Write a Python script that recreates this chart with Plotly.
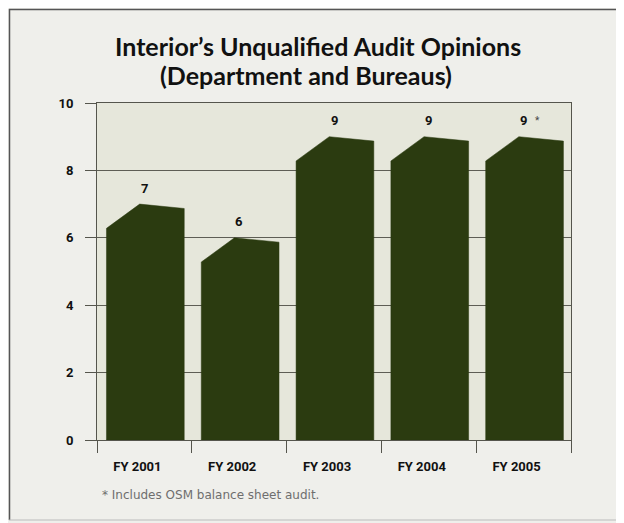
import plotly.graph_objects as go

# ---- data ----
categories = ["FY 2001", "FY 2002", "FY 2003", "FY 2004", "FY 2005"]
values = [7, 6, 9, 9, 9]
value_labels = ["7", "6", "9", "9", "9"]
starred = [False, False, False, False, True]
y_ticks = [0, 2, 4, 6, 8, 10]
title_line1 = "Interior\u2019s Unqualified Audit Opinions"
title_line2 = "(Department and Bureaus)"
footnote = "* Includes OSM balance sheet audit."

# ---- geometry (window pixels) ----
W, H = 624, 523
OFF = 8  # page body margin
ML, MR, MT, MB = 97, 53, 103, 83
BAR = "#2b3b10"
AXIS = "#55554d"
COND = "Liberation Sans Narrow, Roboto, sans-serif"

pw, ph = W - ML - MR, H - MT - MB
def px(x):
    return (x - ML) / pw
def py(y):
    return (H - MB - y) / ph

fig = go.Figure()

# 3-D looking bars: silhouette built from value and category index
left_off, peak_off, right_off = 0.10, 0.45, 0.92
drop_left, drop_right = 0.72, 0.13
for i, v in enumerate(values):
    xs = [i + left_off, i + left_off, i + peak_off, i + right_off, i + right_off, i + left_off]
    ys = [0, v - drop_left, v, v - drop_right, 0, 0]
    fig.add_trace(go.Scatter(x=xs, y=ys, mode="lines", fill="toself",
                             fillcolor=BAR, line=dict(color=BAR, width=0.5),
                             hoverinfo="skip", showlegend=False))

# value labels
for i, (v, lab, st) in enumerate(zip(values, value_labels, starred)):
    fig.add_annotation(x=i + 0.5, y=v, yshift=16, text=lab, showarrow=False,
                       font=dict(family=COND, size=13, color="#111", weight="bold"),
                       xanchor="center", yanchor="middle")
    if st:
        fig.add_annotation(x=i + 0.5, y=v, yshift=16, xshift=14, text="*", showarrow=False,
                           font=dict(family=COND, size=10, color="#444"),
                           xanchor="center", yanchor="middle")

# title lines
tfont = dict(family="Lato", size=25, color="#111", weight="bold")
fig.add_annotation(xref="paper", yref="paper", x=px(318), y=py(46), text=title_line1,
                   showarrow=False, font=tfont, xanchor="center", yanchor="middle")
fig.add_annotation(xref="paper", yref="paper", x=px(306), y=py(75), text=title_line2,
                   showarrow=False, font=tfont, xanchor="center", yanchor="middle")

# footnote
fig.add_annotation(xref="paper", yref="paper", x=px(100), y=py(495), text=footnote,
                   showarrow=False, font=dict(family="DejaVu Sans", size=12, color="#6e6e6e"),
                   xanchor="left", yanchor="middle")

# outer frame (top, left, bottom)
fig.add_shape(type="line", xref="paper", yref="paper", x0=px(9), x1=px(624), y0=py(9.5), y1=py(9.5),
              line=dict(color="#555", width=1.5))
fig.add_shape(type="line", xref="paper", yref="paper", x0=px(9.5), x1=px(9.5), y0=py(9), y1=py(520),
              line=dict(color="#555", width=1.5))
fig.add_shape(type="line", xref="paper", yref="paper", x0=px(9), x1=px(624), y0=py(520), y1=py(520),
              line=dict(color="#bbb", width=1))

fig.update_layout(
    width=W - OFF, height=H - OFF,
    margin=dict(l=ML - OFF, r=MR, t=MT - OFF, b=MB, pad=0),
    paper_bgcolor="#efefeb",
    plot_bgcolor="#e6e7db",
    showlegend=False,
)
fig.update_xaxes(range=[0, len(categories)], tickvals=[i + 0.5 for i in range(len(categories))],
                 ticktext=categories, ticks="", showgrid=False, zeroline=False,
                 showline=True, linecolor=AXIS, linewidth=1, mirror=True,
                 ticklabelshift=-7, ticklabelstandoff=14,
                 tickfont=dict(family=COND, size=13, color="#111", weight="bold"),
                 minor=dict(tickvals=list(range(len(categories) + 1)), ticks="outside",
                            ticklen=12, tickcolor=AXIS, tickwidth=1, showgrid=False))
fig.update_yaxes(range=[0, 10], tickvals=y_ticks, ticks="outside", ticklen=11,
                 tickcolor=AXIS, tickwidth=1, showgrid=True, gridcolor="#5e5e55", gridwidth=1,
                 zeroline=False, showline=True, linecolor=AXIS, linewidth=1, mirror=True,
                 ticklabelstandoff=9,
                 tickfont=dict(family=COND, size=13, color="#111", weight="bold"))

fig.write_html("out.html")
